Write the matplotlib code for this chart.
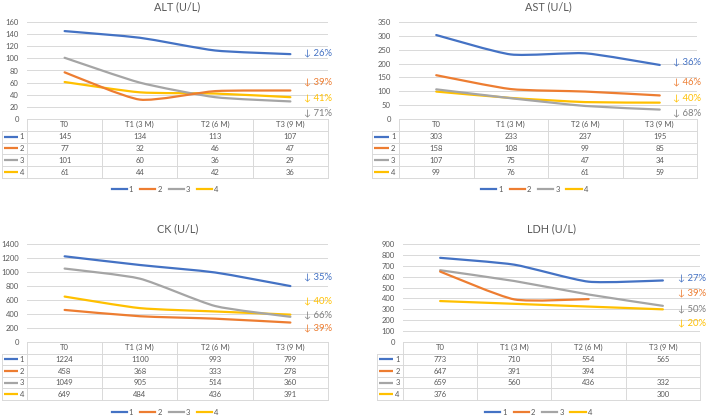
#!/usr/bin/env python
# -*- coding: utf-8 -*-
"""
Liver / muscle enzymes over time: four Excel-style line charts with data tables
"""
import numpy as np
import matplotlib
matplotlib.use('Agg')
import matplotlib.pyplot as plt
from matplotlib.path import Path
from matplotlib.patches import PathPatch
from matplotlib.lines import Line2D

# =============================================================================
# Data
# =============================================================================
categories = ['T0', 'T1 (3 M)', 'T2 (6 M)', 'T3 (9 M)']
series_names = ['1', '2', '3', '4']

alt = [[145, 134, 113, 107],
       [77, 32, 46, 47],
       [101, 60, 36, 29],
       [61, 44, 42, 36]]
ast = [[303, 233, 237, 195],
       [158, 108, 99, 85],
       [107, 75, 47, 34],
       [99, 76, 61, 59]]
ck = [[1224, 1100, 993, 799],
      [458, 368, 333, 278],
      [1049, 905, 514, 360],
      [649, 484, 436, 391]]
ldh = [[773, 710, 554, 565],
       [647, 391, 394, None],
       [659, 560, 436, 332],
       [376, None, None, 300]]

# percentage drop labels: (text, value level where it sits, series index)
alt_drops = [('26%', 109, 0), ('39%', 61, 1), ('41%', 35, 3), ('71%', 10, 2)]
ast_drops = [('36%', 206, 0), ('46%', 134, 1), ('40%', 76, 3), ('68%', 22, 2)]
ck_drops = [('35%', 929, 0), ('40%', 586, 3), ('66%', 386, 2), ('39%', 200, 1)]
ldh_drops = [('27%', 588, 0), ('39%', 450, 1), ('50%', 303, 2), ('20%', 174, 3)]

# =============================================================================
# Style
# =============================================================================
W, H = 708, 419
COLORS = ['#4472C4', '#ED7D31', '#A5A5A5', '#FFC000']
DROP_COLORS = ['#4472C4', '#ED7D31', '#7F7F7F', '#FFC000']
GRID = '#D9D9D9'
TXT = '#595959'
plt.rcParams['font.family'] = ['Lato', 'DejaVu Sans']


def px_axes(fig, left, top, right, bottom):
    return fig.add_axes([left / W, 1 - bottom / H,
                         (right - left) / W, (bottom - top) / H])


def smooth_path(xs, ys, tension=10.0):
    # Excel-like lightly smoothed line: cubic Bezier through the points
    pts = np.column_stack([xs, ys])
    n = len(pts)
    verts = [pts[0]]
    codes = [Path.MOVETO]
    for i in range(n - 1):
        p0 = pts[max(i - 1, 0)]
        p1 = pts[i]
        p2 = pts[i + 1]
        p3 = pts[min(i + 2, n - 1)]
        c1 = p1 + (p2 - p0) / tension
        c2 = p2 - (p3 - p1) / tension
        verts += [c1, c2, p2]
        codes += [Path.CURVE4] * 3
    return Path(verts, codes)


def panel(fig, title, data, ymax, ystep, drops, geo, drop_x=3.68):
    label_left, plot_left, plot_right, plot_top, plot_bottom, \
        table_bottom, title_y, legend_y = geo
    ax = px_axes(fig, plot_left, plot_top, plot_right, plot_bottom)
    ax.set_xlim(0, 4)
    ax.set_ylim(0, ymax)
    ax.set_yticks(np.arange(0, ymax + 1, ystep))
    ax.set_xticks([])
    ax.tick_params(axis='y', length=0, pad=6, labelsize=5.5, labelcolor=TXT)
    for s in ax.spines.values():
        s.set_visible(False)
    ax.yaxis.grid(True, color=GRID, lw=0.7)
    ax.set_axisbelow(True)

    xpos = np.arange(4) + 0.5
    for k, row in enumerate(data):
        vals = np.array([np.nan if v is None else v for v in row], float)
        ok = ~np.isnan(vals)
        path = smooth_path(xpos[ok], vals[ok])
        ax.add_patch(PathPatch(path, fc='none', ec=COLORS[k], lw=1.6,
                               capstyle='round', joinstyle='round',
                               zorder=3 + (3 - k) * 0.1))

    for txt, lvl, k in drops:
        ax.text(drop_x, lvl, '\u2193 ' + txt, color=DROP_COLORS[k],
                fontsize=6.8, va='center', ha='left', clip_on=False)

    # title
    cx = (plot_left + plot_right) / 2.0
    fig.text(cx / W, 1 - title_y / H, title, ha='center', va='center',
             fontsize=7.8, color=TXT)

    # data table
    tb = px_axes(fig, label_left, plot_bottom, plot_right, table_bottom)
    cw = (plot_right - plot_left) / 4.0
    lw = (plot_left - label_left) / cw
    tb.set_xlim(-lw, 4)
    tb.set_ylim(5, 0)
    tb.axis('off')
    lkw = dict(color=GRID, lw=0.7, clip_on=False)
    tb.plot([0, 4], [0, 0], **lkw)
    for r in range(1, 6):
        tb.plot([-lw, 4], [r, r], **lkw)
    for c in range(5):
        tb.plot([c, c], [0, 5], **lkw)
    tb.plot([-lw, -lw], [1, 5], **lkw)
    for c, name in enumerate(categories):
        tb.text(c + 0.5, 0.5, name, ha='center', va='center',
                fontsize=5.5, color=TXT)
    for k, row in enumerate(data):
        y = k + 1.5
        tb.plot([-lw + 0.08 * lw, -lw + 0.62 * lw], [y, y],
                color=COLORS[k], lw=1.6, solid_capstyle='butt')
        tb.text(-lw + 0.7 * lw, y, series_names[k], ha='left', va='center',
                fontsize=5.5, color=TXT)
        for c, v in enumerate(row):
            if v is not None:
                tb.text(c + 0.5, y, str(v), ha='center', va='center',
                        fontsize=5.5, color=TXT)

    handles = [Line2D([], [], color=COLORS[k], lw=1.6)
               for k in range(4)]
    lcx = (label_left + plot_right) / 2.0
    fig.legend(handles, series_names, loc='center', ncol=4, frameon=False,
               bbox_to_anchor=(lcx / W, 1 - legend_y / H), fontsize=5.5,
               handlelength=2.0, handletextpad=0.25, columnspacing=0.9,
               labelcolor=TXT)
    return ax


# =============================================================================
# Start of code
# =============================================================================
if __name__ == "__main__":
    fig = plt.figure(figsize=(W / 100.0, H / 100.0), dpi=100)
    fig.patch.set_facecolor('white')

    # (label_left, plot_left, plot_right, plot_top, plot_bottom,
    #  table_bottom, title_y, legend_y)
    panel(fig, 'ALT (U/L)', alt, 160, 20, alt_drops,
          (2, 27, 328, 22, 119, 178, 7, 189))
    panel(fig, 'AST (U/L)', ast, 350, 50, ast_drops,
          (372, 399, 697, 22, 119, 178, 7, 189))
    panel(fig, 'CK (U/L)', ck, 1400, 200, ck_drops,
          (2, 27, 328, 244, 342, 400, 229, 412))
    panel(fig, 'LDH (U/L)', ldh, 900, 100, ldh_drops,
          (377, 403, 700, 244, 342, 400, 229, 412), drop_x=3.7)

    fig.savefig('out.png', dpi=100, facecolor='white')
    plt.close(fig)

# =============================================================================
# End of code
# =============================================================================
